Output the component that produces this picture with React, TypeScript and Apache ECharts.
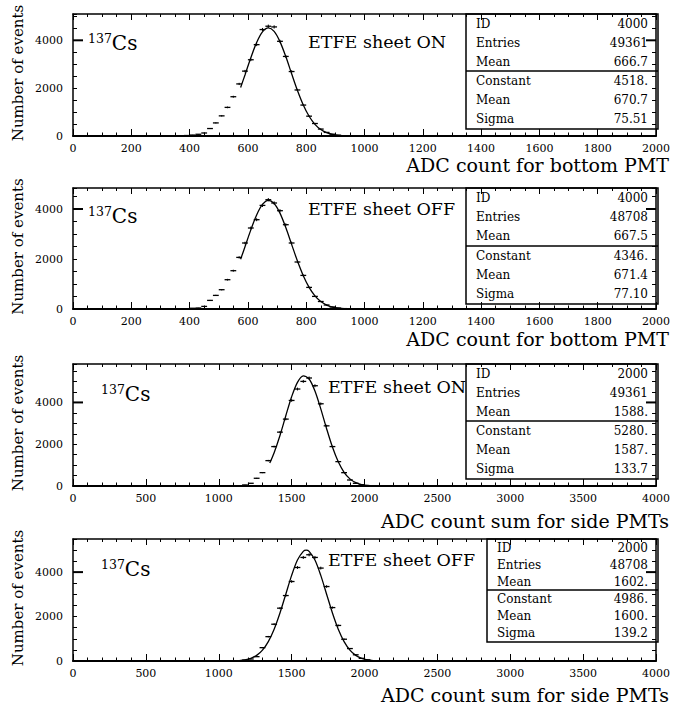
import React, { useEffect, useRef } from 'react';
import * as echarts from 'echarts';

const FONT = '"DejaVu Serif", "Liberation Serif", serif';

// ---------- Panel 1 : bottom PMT, ETFE sheet ON ----------
const p1Bins = [390, 410, 430, 450, 470, 490, 510, 530, 550, 570, 590, 610, 630, 650, 670, 690, 710, 730, 750, 770, 790, 810, 830, 850, 870, 890, 910, 930, 950];
const p1Counts = [20, 40, 72, 126, 312, 547, 842, 1196, 1642, 2177, 2712, 3187, 3819, 4450, 4589, 4560, 3958, 3326, 2695, 1924, 1293, 829, 522, 290, 150, 75, 35, 15, 8];
const p1FitX = [575, 590, 610, 630, 650, 670, 690, 710, 730, 750, 770, 790, 810, 830, 850, 870, 890, 910, 930, 950, 1000];
const p1FitY = [2024, 2553, 3271, 3908, 4351, 4518, 4373, 3946, 3320, 2603, 1903, 1297, 824, 488, 270, 139, 67, 30, 13, 5, 0];
const p1Stats = ['4000', '49361', '666.7', '4518.', '670.7', '75.51'];

// ---------- Panel 2 : bottom PMT, ETFE sheet OFF ----------
const p2Bins = [390, 410, 430, 450, 470, 490, 510, 530, 550, 570, 590, 610, 630, 650, 670, 690, 710, 730, 750, 770, 790, 810, 830, 850, 870, 890, 910, 930, 950];
const p2Counts = [15, 30, 40, 104, 344, 544, 772, 1172, 1532, 2064, 2640, 3240, 3572, 4144, 4372, 4240, 3932, 3372, 2640, 1880, 1344, 864, 504, 300, 160, 80, 38, 16, 7];
const p2FitX = [575, 590, 610, 630, 650, 670, 690, 710, 730, 750, 770, 790, 810, 830, 850, 870, 890, 910, 930, 950, 1000];
const p2FitY = [1989, 2490, 3166, 3763, 4182, 4346, 4221, 3834, 3256, 2584, 1918, 1331, 863, 524, 297, 157, 78, 36, 15, 6, 1];
const p2Stats = ['4000', '48708', '667.5', '4346.', '671.4', '77.10'];

// ---------- Panel 3 : side PMT sum, ETFE sheet ON ----------
const p3Bins = [1180, 1220, 1260, 1300, 1340, 1380, 1420, 1460, 1500, 1540, 1580, 1620, 1660, 1700, 1740, 1780, 1820, 1860, 1900, 1940, 1980, 2020];
const p3Counts = [50, 130, 370, 640, 1215, 1887, 2578, 3202, 4095, 4642, 5007, 5170, 4800, 3936, 2880, 1887, 1167, 638, 288, 130, 60, 20];
const p3FitX = [1350, 1380, 1420, 1460, 1500, 1540, 1580, 1620, 1660, 1700, 1740, 1780, 1820, 1860, 1900, 1940, 1980, 2020, 2060, 2100];
const p3FitY = [1097, 1593, 2420, 3363, 4272, 4963, 5273, 5122, 4549, 3694, 2743, 1863, 1157, 657, 341, 162, 70, 28, 10, 3];
const p3Stats = ['2000', '49361', '1588.', '5280.', '1587.', '133.7'];

// ---------- Panel 4 : side PMT sum, ETFE sheet OFF ----------
const p4Bins = [1180, 1220, 1260, 1300, 1340, 1380, 1420, 1460, 1500, 1540, 1580, 1620, 1660, 1700, 1740, 1780, 1820, 1860, 1900, 1940, 1980, 2020];
const p4Counts = [40, 90, 195, 600, 1096, 1655, 2377, 2945, 3577, 4208, 4660, 4781, 4660, 4181, 3351, 2404, 1600, 980, 560, 280, 120, 50];
const p4FitX = [1100, 1140, 1180, 1220, 1260, 1300, 1340, 1380, 1420, 1460, 1500, 1540, 1580, 1600, 1620, 1660, 1700, 1740, 1780, 1820, 1860, 1900, 1940, 1980, 2020, 2060, 2100];
const p4FitY = [8, 21, 53, 120, 252, 489, 872, 1430, 2161, 3006, 3852, 4544, 4935, 4986, 4935, 4544, 3852, 3006, 2161, 1430, 872, 489, 252, 120, 53, 21, 8];
const p4Stats = ['2000', '48708', '1602.', '4986.', '1600.', '139.2'];

const statNames = ['ID', 'Entries', 'Mean', 'Constant', 'Mean', 'Sigma'];
const sheetLabels = ['ETFE sheet ON', 'ETFE sheet OFF', 'ETFE sheet ON', 'ETFE sheet OFF'];
const xTitles = ['ADC count for bottom PMT', 'ADC count for bottom PMT', 'ADC count sum for side PMTs', 'ADC count sum for side PMTs'];
const yTitle = 'Number of events';
const xMaxes = [2000, 2000, 4000, 4000];
const xMajors = [200, 200, 500, 500];
const xMinorSplits = [4, 4, 5, 5];
const yMaxes = [5100, 4840, 5840, 5490];
const yLabelStep = 2000;
const yTickStep = 500;
const yLongTick = [4000];
const binWidths = [20, 20, 40, 40];

const data = [
  { bins: p1Bins, counts: p1Counts, fitX: p1FitX, fitY: p1FitY, stats: p1Stats },
  { bins: p2Bins, counts: p2Counts, fitX: p2FitX, fitY: p2FitY, stats: p2Stats },
  { bins: p3Bins, counts: p3Counts, fitX: p3FitX, fitY: p3FitY, stats: p3Stats },
  { bins: p4Bins, counts: p4Counts, fitX: p4FitX, fitY: p4FitY, stats: p4Stats },
];

// ---------- layout (pixels) ----------
const GRID_LEFT = 73;
const GRID_WIDTH = 585;
const gridTops = [14, 188, 364, 539];
const gridHeights = [122, 121, 122, 122];
const boxLefts = [466, 466, 466, 487];
const boxBottoms = [129, 304, 479, 642];
const boxDividers = [71, 246, 421, 590];
const csPos = [[88, 42], [88, 215], [101, 393], [101, 568]];
const sheetPos = [[308, 42], [308, 209], [328, 387], [328, 560]];
const titleY = [165, 339, 521, 695];

function buildOption() {
  const grid: any[] = [];
  const xAxis: any[] = [];
  const yAxis: any[] = [];
  const series: any[] = [];
  const graphic: any[] = [];

  for (let i = 0; i < 4; i++) {
    grid.push({ left: GRID_LEFT, top: gridTops[i], width: GRID_WIDTH, height: gridHeights[i] });
    const baseX = {
      gridIndex: i, type: 'value', min: 0, max: xMaxes[i], interval: xMajors[i],
      splitLine: { show: false },
      minorTick: { show: true, splitNumber: xMinorSplits[i], length: 3.5, lineStyle: { color: '#000', width: 1 } },
      minorSplitLine: { show: false },
      axisTick: { show: true, inside: true, length: 7, lineStyle: { color: '#000', width: 1 } },
    };
    xAxis.push({
      ...baseX, position: 'bottom',
      axisLine: { show: true, onZero: false, lineStyle: { color: '#000', width: 2 } },
      axisLabel: { show: true, color: '#000', fontFamily: FONT, fontSize: 11, margin: 7, formatter: (v: number) => String(v) },
    });
    xAxis.push({
      ...baseX, position: 'top',
      axisLine: { show: true, onZero: false, lineStyle: { color: '#000', width: 1.5 } },
      axisTick: { show: true, inside: true, length: 6, lineStyle: { color: '#000', width: 1 } },
      minorTick: { show: true, splitNumber: xMinorSplits[i], length: 3, lineStyle: { color: '#000', width: 1 } },
      axisLabel: { show: false },
    });
    const baseY = {
      gridIndex: i, type: 'value', min: 0, max: yMaxes[i], interval: yTickStep,
      splitLine: { show: false },
      axisTick: { show: true, inside: true, length: 4, lineStyle: { color: '#000', width: 1 } },
    };
    yAxis.push({
      ...baseY, position: 'left',
      axisLine: { show: true, onZero: false, lineStyle: { color: '#000', width: 1.5 } },
      axisLabel: {
        show: true, color: '#000', fontFamily: FONT, fontSize: 11, margin: 10,
        formatter: (v: number) => (v % yLabelStep === 0 ? String(v) : ''),
      },
    });
    yAxis.push({
      ...baseY, position: 'right',
      axisLine: { show: true, onZero: false, lineStyle: { color: '#000', width: 1.5 } },
      axisLabel: { show: false },
    });

    const d = data[i];
    const bw = binWidths[i];
    const xMax = xMaxes[i];
    series.push({
      type: 'custom',
      xAxisIndex: i * 2,
      yAxisIndex: i * 2,
      data: d.bins.map((b, k) => [b, d.counts[k]]),
      encode: { x: 0, y: 1 },
      renderItem: (_p: any, api: any) => {
        const x = api.value(0);
        const y = api.value(1);
        const a = api.coord([x - bw / 2, y]);
        const b = api.coord([x + bw / 2, y]);
        const e = Math.sqrt(y);
        const t = api.coord([x, y + e]);
        const u = api.coord([x, Math.max(0, y - e)]);
        return {
          type: 'group',
          children: [
            { type: 'line', shape: { x1: a[0], y1: a[1], x2: b[0], y2: b[1] }, style: { stroke: '#000', lineWidth: 1.3 } },
            { type: 'line', shape: { x1: t[0], y1: t[1], x2: u[0], y2: u[1] }, style: { stroke: '#000', lineWidth: 1 } },
          ],
        };
      },
      z: 3,
    });
    series.push({
      type: 'line',
      xAxisIndex: i * 2,
      yAxisIndex: i * 2,
      data: d.fitX.map((x, k) => [x, d.fitY[k]]),
      smooth: 0.3,
      showSymbol: false,
      symbol: 'none',
      lineStyle: { color: '#000', width: 1.3 },
      z: 4,
    });
    // longer tick marks at 4000 on the left and right frame edges
    series.push({
      type: 'custom',
      xAxisIndex: i * 2,
      yAxisIndex: i * 2,
      data: yLongTick.map((v) => [0, v]),
      encode: { x: 0, y: 1 },
      clip: false,
      silent: true,
      renderItem: (_p: any, api: any) => {
        const v = api.value(1);
        const l = api.coord([0, v]);
        const r = api.coord([xMax, v]);
        return {
          type: 'group',
          children: [
            { type: 'line', shape: { x1: l[0], y1: l[1], x2: l[0] + 10, y2: l[1] }, style: { stroke: '#000', lineWidth: 2 } },
            { type: 'line', shape: { x1: r[0] - 10, y1: r[1], x2: r[0], y2: r[1] }, style: { stroke: '#000', lineWidth: 2 } },
          ],
        };
      },
      z: 5,
    });

    // stat box
    const top = gridTops[i];
    const right = GRID_LEFT + GRID_WIDTH;
    graphic.push({
      type: 'rect',
      shape: { x: boxLefts[i], y: top, width: right - boxLefts[i], height: boxBottoms[i] - top },
      style: { fill: 'none', stroke: '#000', lineWidth: 1.5 },
      z: 10,
    });
    graphic.push({
      type: 'line',
      shape: { x1: boxLefts[i], y1: boxDividers[i], x2: right, y2: boxDividers[i] },
      style: { stroke: '#000', lineWidth: 1.5 },
      z: 10,
    });
    const upperH = (boxDividers[i] - top) / 3;
    const lowerH = (boxBottoms[i] - boxDividers[i]) / 3;
    for (let r = 0; r < 6; r++) {
      const cy = r < 3 ? top + upperH * (r + 0.5) : boxDividers[i] + lowerH * (r - 3 + 0.5);
      graphic.push({
        type: 'text', x: boxLefts[i] + 10, y: cy, z: 10,
        style: { text: statNames[r], font: `12px ${FONT}`, fill: '#000', align: 'left', verticalAlign: 'middle' },
      });
      graphic.push({
        type: 'text', x: right - 10, y: cy, z: 10,
        style: { text: d.stats[r], font: `12px ${FONT}`, fill: '#000', align: 'right', verticalAlign: 'middle' },
      });
    }
    graphic.push({
      type: 'text', x: csPos[i][0], y: csPos[i][1], z: 10,
      style: {
        text: '{s|137}{c|Cs}',
        verticalAlign: 'middle',
        align: 'left',
        rich: {
          s: { fontSize: 12.5, fontFamily: FONT, fill: '#000', verticalAlign: 'top', padding: [0, 0, 8, 0] },
          c: { fontSize: 20, fontFamily: FONT, fill: '#000', verticalAlign: 'bottom' },
        },
      },
    });
    graphic.push({
      type: 'text', x: sheetPos[i][0], y: sheetPos[i][1], z: 10,
      style: { text: sheetLabels[i], font: `17.5px ${FONT}`, fill: '#000', align: 'left', verticalAlign: 'middle' },
    });
    graphic.push({
      type: 'text', x: 669, y: titleY[i], z: 10,
      style: { text: xTitles[i], font: `19px ${FONT}`, fill: '#000', align: 'right', verticalAlign: 'middle' },
    });
    graphic.push({
      type: 'text', x: 18, y: top + gridHeights[i] / 2 - 2, rotation: Math.PI / 2, z: 10,
      style: { text: yTitle, font: `15px ${FONT}`, fill: '#000', align: 'center', verticalAlign: 'middle' },
    });
  }

  return {
    animation: false,
    backgroundColor: '#fff',
    textStyle: { fontFamily: FONT },
    grid, xAxis, yAxis, series, graphic,
  };
}

export default function App() {
  const ref = useRef<HTMLDivElement>(null);
  useEffect(() => {
    if (!ref.current) return;
    const chart = echarts.init(ref.current, undefined, { renderer: 'svg' });
    chart.setOption(buildOption() as any);
    return () => chart.dispose();
  }, []);
  return <div ref={ref} style={{ position: 'absolute', left: 0, top: 0, width: 673, height: 706 }} />;
}
